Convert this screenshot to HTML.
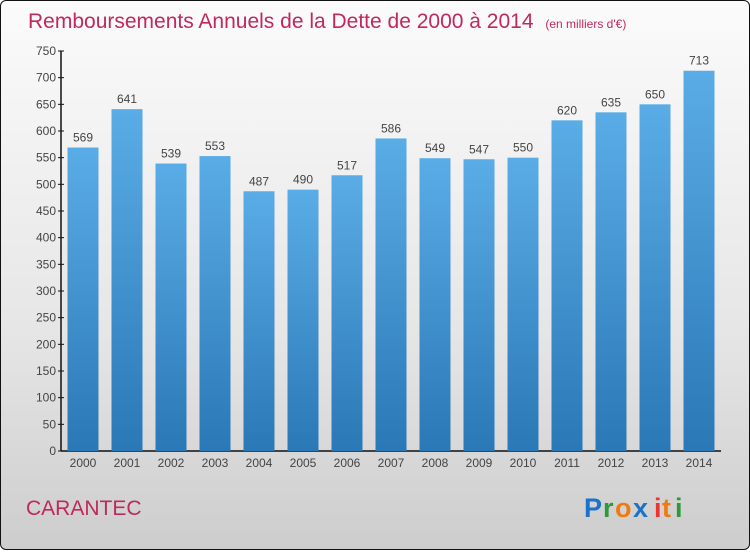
<!DOCTYPE html>
<html><head><meta charset="utf-8"><style>
body{margin:0;width:750px;height:550px;overflow:hidden;font-family:"Liberation Sans",sans-serif}
#wrap{position:absolute;left:0;top:0;width:748px;height:548px;border:1px solid #111;border-radius:6px;background:linear-gradient(#fbfbfb,#e6e6e6 60%,#cdcdcd)}
</style></head><body>
<div id="wrap">
<svg width="750" height="550">
<defs><linearGradient id="bg" x1="0" y1="0" x2="0" y2="1"><stop offset="0" stop-color="#5aace6"/><stop offset="1" stop-color="#2a78b6"/></linearGradient></defs>
<text x="27" y="27" font-size="21" fill="#c0285e">Remboursements Annuels de la Dette de 2000 à 2014 <tspan font-size="12" dx="6">(en milliers d'€)</tspan></text>
<g id="axes"></g><g id="bars"></g>
<text x="25" y="514" font-size="21" fill="#c0285e">CARANTEC</text>
<g font-size="27" font-weight="bold" font-family="'Liberation Sans',sans-serif">
<text x="583" y="516" fill="#1a73c9">P</text><text x="602" y="516" fill="#2a9a3a">r</text><text x="614" y="516" fill="#f07a10">o</text><text x="632" y="516" fill="#1a73c9">x</text><text x="653" y="516" fill="#e33">i</text><text x="661" y="516" fill="#f07a10">t</text><text x="674" y="516" fill="#2a9a3a">i</text>
</g>
</svg></div>
<script>
const categories=["2000","2001","2002","2003","2004","2005","2006","2007","2008","2009","2010","2011","2012","2013","2014"];
const values=[569,641,539,553,487,490,517,586,549,547,550,620,635,650,713];
const ticks=[0,50,100,150,200,250,300,350,400,450,500,550,600,650,700,750];
const NS="http://www.w3.org/2000/svg";
const y0=450,y1=50,vmax=750,x0=60,step=44,bw=31;
const Y=v=>y0-(v/vmax)*(y0-y1);
const X=i=>x0+22+i*step;
function el(t,a,p){const e=document.createElementNS(NS,t);for(const k in a)e.setAttribute(k,a[k]);p.appendChild(e);return e;}
const ax=document.getElementById('axes'),bg=document.getElementById('bars');
const yl=el('line',{x1:x0,x2:x0,y1:y1,y2:y0,stroke:'#111','stroke-width':1.5},ax);


const xl=el('line',{x1:x0,x2:720,y1:y0,y2:y0,stroke:'#111','stroke-width':1.5},ax);


ticks.forEach(t=>{
 el('line',{x1:x0-3,x2:x0+3,y1:Y(t),y2:Y(t),stroke:'#111'},ax);
 const tx=el('text',{x:x0-5,y:Y(t)+4,'font-size':12,fill:'#444','text-anchor':'end'},ax);tx.textContent=t;
 
 
});
categories.forEach((c,i)=>{
 const r=el('rect',{x:X(i)-bw/2,y:Y(values[i]),width:bw,height:y0-Y(values[i]),fill:'url(#bg)'},bg);
 
 
 const v=el('text',{x:X(i),y:Y(values[i])-6,'font-size':12,fill:'#444','text-anchor':'middle'},bg);v.textContent=values[i];
 
 
 const l=el('text',{x:X(i),y:466,'font-size':12,fill:'#444','text-anchor':'middle'},ax);l.textContent=c;
 
 
});
</script>
</body></html>
